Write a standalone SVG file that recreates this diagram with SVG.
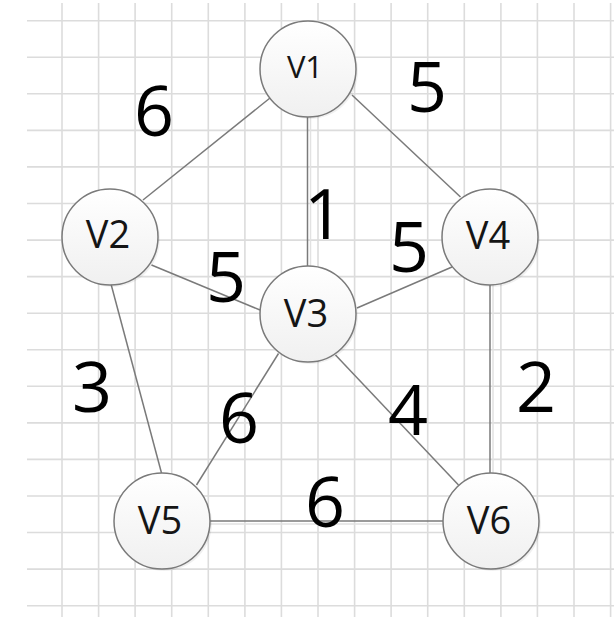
<svg xmlns="http://www.w3.org/2000/svg" width="614" height="620" viewBox="0 0 614 620">
<defs>
<linearGradient id="nodeFill" x1="0" y1="0" x2="0" y2="1">
<stop offset="0" stop-color="#ffffff"/>
<stop offset="1" stop-color="#f0f0f0"/>
</linearGradient>
<style>
.grid{stroke:#dcdcdc;stroke-width:1.6;fill:none}
.edge{stroke:#7a7a7a;stroke-width:1.5;fill:none}
.eshadow{stroke:#e2e2e2;stroke-width:1.5;fill:none}
.node{fill:url(#nodeFill);stroke:#7a7a7a;stroke-width:1.5}
.nshadow{fill:#000;opacity:0.06}
.nlabel{font-family:"Open Sans","Liberation Sans",sans-serif;font-size:38px;fill:#151515;text-anchor:middle}
.w{font-family:"Open Sans","Liberation Sans",sans-serif;font-size:70px;fill:#000;text-anchor:middle}
</style>
</defs>
<rect width="614" height="620" fill="#ffffff"/>
<g id="grid" class="grid">
<path d="M62 3V617M98.6 3V617M135.1 3V617M171.7 3V617M208.3 3V617M244.9 3V617M281.4 3V617M318 3V617M354.6 3V617M391.1 3V617M427.7 3V617M464.3 3V617M500.9 3V617M537.4 3V617M574 3V617M610.6 3V617"/>
<path d="M27 20.7H614M27 57.3H614M27 93.8H614M27 130.4H614M27 166.9H614M27 203.5H614M27 240.1H614M27 276.6H614M27 313.2H614M27 349.7H614M27 386.3H614M27 422.9H614M27 459.4H614M27 496H614M27 532.5H614M27 569.1H614M27 605.7H614"/>
</g>
<g id="connectors">
<g class="eshadow">
<line x1="310.5" y1="117" x2="310.5" y2="266"/>
<line x1="493" y1="285" x2="493" y2="473"/>
<line x1="210" y1="524" x2="443" y2="524"/>
</g>
<g class="edge">
<line x1="143" y1="200" x2="270" y2="98"/>
<line x1="307.5" y1="117" x2="307.5" y2="266"/>
<line x1="352" y1="95" x2="460.5" y2="197"/>
<line x1="151.5" y1="265" x2="260" y2="310"/>
<line x1="357" y1="308" x2="452" y2="267"/>
<line x1="111" y1="284" x2="161.5" y2="473"/>
<line x1="278.5" y1="353.5" x2="196.5" y2="485"/>
<line x1="335.5" y1="355" x2="458.5" y2="485"/>
<line x1="490" y1="285" x2="490" y2="473"/>
<line x1="210" y1="521" x2="443" y2="521"/>
</g>
</g>
<g id="weights">
<text class="w" x="154" y="136">6</text>
<text class="w" x="427" y="112">5</text>
<text class="w" x="324" y="239">1</text>
<text class="w" x="409" y="272">5</text>
<text class="w" x="226" y="302">5</text>
<text class="w" x="92" y="412">3</text>
<text class="w" x="239" y="443">6</text>
<text class="w" x="408" y="435">4</text>
<text class="w" x="536" y="412">2</text>
<text class="w" x="325" y="527">6</text>
</g>
<g id="V1">
<circle class="nshadow" cx="310" cy="71" r="48"/>
<circle class="node" cx="308" cy="69" r="48"/>
<text class="nlabel" x="305" y="78" style="font-size:31px">V1</text>
</g>
<g id="V2">
<circle class="nshadow" cx="112" cy="239" r="48"/>
<circle class="node" cx="110" cy="237" r="48"/>
<text class="nlabel" x="108" y="248">V2</text>
</g>
<g id="V3">
<circle class="nshadow" cx="310" cy="316" r="48"/>
<circle class="node" cx="308" cy="314" r="48"/>
<text class="nlabel" x="306" y="327">V3</text>
</g>
<g id="V4">
<circle class="nshadow" cx="492" cy="239" r="48"/>
<circle class="node" cx="490" cy="237" r="48"/>
<text class="nlabel" x="488" y="249">V4</text>
</g>
<g id="V5">
<circle class="nshadow" cx="164" cy="523" r="48"/>
<circle class="node" cx="162" cy="521" r="48"/>
<text class="nlabel" x="160" y="534">V5</text>
</g>
<g id="V6">
<circle class="nshadow" cx="493" cy="523" r="48"/>
<circle class="node" cx="491" cy="521" r="48"/>
<text class="nlabel" x="489" y="534">V6</text>
</g>
</svg>
